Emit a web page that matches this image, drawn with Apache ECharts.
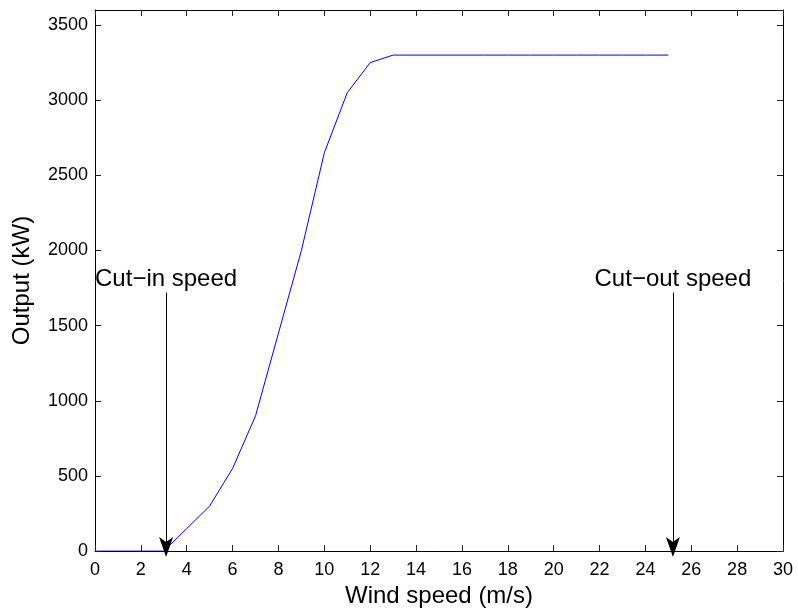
<!DOCTYPE html>
<html>
<head>
<meta charset="utf-8">
<script src="https://cdn.jsdelivr.net/npm/echarts@6/dist/echarts.min.js"></script>
<style>
html,body{margin:0;padding:0;background:#fff;}
#chart{width:798px;height:613px;}
</style>
</head>
<body>
<div id="chart"></div>
<script>
// Data
var windSpeed = [0,1,2,3,4,5,6,7,8,9,10,11,12,13,14,15,16,17,18,19,20,21,22,23,24,25];
var outputKW  = [0,0,0,0,150,300,550,900,1450,2000,2650,3050,3250,3300,3300,3300,3300,3300,3300,3300,3300,3300,3300,3300,3300,3300];
var xTicks = {min:0, max:30, interval:2};
var yTicks = {min:0, max:3600, interval:500};
var cutIn  = {x:3.1, label:'Cut\u2212in speed'};
var cutOut = {x:25.2, label:'Cut\u2212out speed'};
var arrowTop = 1720;
var arrowEnd = 0;

var FONT = '"Liberation Sans", Arial, Helvetica, sans-serif';
var chart = echarts.init(document.getElementById('chart'));

function arrowLine(a){
  return [
    {coord:[a.x, arrowTop], label:{show:true, formatter:a.label}},
    {coord:[a.x, arrowEnd]}
  ];
}

var common = {
  axisLine:{show:true, onZero:false, lineStyle:{color:'#000', width:1}},
  axisTick:{show:true, inside:true, length:6, lineStyle:{color:'#222', width:1}},
  splitLine:{show:false}
};

chart.setOption({
  animation:false,
  backgroundColor:'#fff',
  grid:{left:95, right:15, top:10, bottom:60, containLabel:false},
  xAxis:[
    Object.assign({type:'value', position:'bottom', min:xTicks.min, max:xTicks.max, interval:xTicks.interval,
      name:'Wind speed (m/s)', nameLocation:'middle', nameGap:30,
      nameTextStyle:{fontFamily:FONT, fontSize:24, color:'#000'},
      axisLabel:{fontFamily:FONT, fontSize:18, color:'#000', margin:10}}, common),
    Object.assign({type:'value', position:'top', min:xTicks.min, max:xTicks.max, interval:xTicks.interval,
      axisLabel:{show:false}}, common)
  ],
  yAxis:[
    Object.assign({type:'value', position:'left', min:yTicks.min, max:yTicks.max, interval:yTicks.interval,
      name:'Output (kW)', nameLocation:'middle', nameGap:61,
      nameTextStyle:{fontFamily:FONT, fontSize:24, color:'#000'},
      axisLabel:{fontFamily:FONT, fontSize:18, color:'#000', margin:7, showMaxLabel:false,
        formatter:function(v){return String(v);}}}, common),
    Object.assign({type:'value', position:'right', min:yTicks.min, max:yTicks.max, interval:yTicks.interval,
      axisLabel:{show:false}}, common)
  ],
  series:[{
    type:'line',
    data: windSpeed.map(function(x,i){return [x, outputKW[i]];}),
    showSymbol:false,
    symbol:'none',
    lineStyle:{color:'#0000ff', width:1},
    z:3,
    markLine:{
      silent:true,
      symbol:['none','arrow'],
      symbolSize:[10.5,20],
      symbolOffset:[0,[0,-6]],
      lineStyle:{color:'#000', width:1, type:'solid', opacity:1},
      label:{show:true, position:'start', distance:1, fontFamily:FONT, fontSize:24, color:'#000'},
      data:[arrowLine(cutIn), arrowLine(cutOut)]
    }
  }]
});
</script>
</body>
</html>
